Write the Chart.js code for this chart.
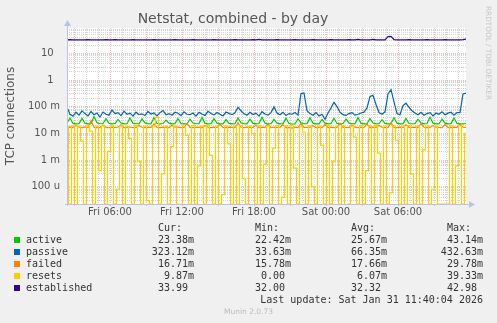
<!DOCTYPE html>
<html>
<head>
<meta charset="utf-8">
<script src="https://cdn.jsdelivr.net/npm/chart.js@4.4.1/dist/chart.umd.min.js"></script>
<style>
  html, body { margin: 0; padding: 0; background: #f0f0f0; }
  #wrap { position: relative; width: 497px; height: 323px; overflow: hidden; }
  #netstat { position: absolute; left: 0; top: 0; }
  .lg { position: absolute; font-family: "DejaVu Sans Mono", monospace; font-size: 10px; line-height: 12px; color: #333; white-space: pre; }
  .sq { position: absolute; width: 6px; height: 6px; }
  #munin { position: absolute; left: 0; width: 497px; top: 307px; text-align: center; font-family: "DejaVu Sans", sans-serif; font-size: 7.5px; color: #bbb; }
</style>
</head>
<body>
<div id="wrap">
  <canvas id="netstat" width="497" height="323"></canvas>
  <div id="legend"></div>
  <div id="munin">Munin 2.0.73</div>
</div>
<script>
/**********************************************
 *
 * Netstat, combined - by day (munin)
 *
 * ****************************************/

// samples every 15 min, hours counted from Fri 00:00
var startHour = 2 + 25 / 60;
var times = [];
for (var i = 0; i < 134; i++) times.push(startHour + i * 0.25);

// values in milli-connections (m)
var active = [
  24.1, 38.0, 23.5, 22.8, 23.2, 36.5, 24.0, 22.6, 23.0, 43.14, 25.0, 22.9, 23.4, 35.0,
  23.8, 22.7, 23.1, 33.2, 24.2, 22.5, 23.0, 37.4, 23.6, 22.9, 22.6, 34.8, 24.5, 23.0,
  22.8, 38.9, 23.4, 22.7, 23.3, 31.5, 24.0, 22.6, 23.1, 36.2, 23.2, 22.8, 22.5, 33.9,
  24.3, 22.9, 23.0, 39.5, 23.7, 22.6, 23.2, 35.6, 24.1, 22.8, 22.5, 32.8, 23.6, 22.7,
  23.0, 37.8, 24.4, 22.9, 22.6, 34.1, 23.5, 22.7, 23.3, 40.2, 23.9, 22.6, 22.9, 33.4,
  24.0, 22.8, 23.1, 36.9, 23.4, 22.6, 22.42, 35.2, 24.6, 22.9, 23.2, 38.4, 23.8, 22.7,
  22.5, 33.0, 24.2, 22.8, 23.0, 37.1, 23.5, 22.6, 23.4, 34.6, 24.0, 22.9, 22.7, 39.0,
  23.6, 22.8, 23.1, 35.8, 24.3, 22.6, 22.9, 32.6, 23.7, 22.7, 23.2, 38.2, 24.1, 22.8,
  22.6, 36.0, 23.4, 22.9, 23.0, 33.8, 24.5, 22.6, 23.3, 40.6, 23.9, 22.8, 22.5, 34.3,
  24.0, 22.7, 23.1, 37.5, 23.6, 22.9, 22.8, 23.38
];
var passive = [
  96, 52, 44, 62, 48, 70, 55, 45, 66, 50, 58, 41, 63, 52,
  48, 75, 55, 60, 46, 68, 52, 57, 44, 62, 50, 54, 47, 66,
  53, 58, 45, 60, 72, 50, 55, 48, 62, 57, 46, 64, 52, 50,
  58, 44, 61, 53, 47, 67, 55, 49, 60, 52, 45, 63, 56, 50,
  59, 95, 70, 54, 48, 62, 51, 57, 44, 65, 53, 48, 60, 98,
  58, 50, 62, 47, 55, 52, 60, 48, 310, 325, 70, 55, 48, 60,
  45, 52, 33.63, 58, 90, 145, 100, 62, 50, 47, 55, 60, 48, 52,
  58, 62, 90, 240, 265, 120, 60, 52, 64, 300, 432.63, 150, 55, 50,
  110, 135, 95, 70, 58, 50, 62, 48, 55, 60, 45, 58, 52, 64,
  50, 57, 62, 48, 60, 60, 300, 323.12
];
var failed = [
  16.8, 17.2, 16.5, 19.5, 16.9, 16.3, 17.4, 16.6, 29.78, 17.0, 16.4, 16.8, 20.5, 16.7,
  16.2, 17.1, 16.6, 16.9, 21.0, 16.5, 16.8, 17.3, 16.4, 16.7, 19.8, 16.9, 16.3, 17.2,
  16.6, 22.4, 16.8, 16.4, 17.0, 16.7, 16.2, 20.2, 16.9, 17.1, 16.5, 16.8, 23.5, 16.6,
  16.3, 17.0, 16.7, 16.4, 19.6, 16.9, 16.5, 17.2, 16.6, 21.8, 16.8, 16.3, 17.0, 16.7,
  16.4, 24.6, 16.9, 16.5, 17.1, 16.6, 16.8, 19.9, 16.4, 17.0, 16.7, 22.0, 16.5, 16.9,
  16.6, 17.2, 20.8, 16.4, 16.7, 15.78, 17.0, 16.5, 23.2, 16.8, 16.6, 17.1, 19.4, 16.5,
  16.9, 16.3, 21.5, 16.7, 17.0, 16.4, 16.8, 24.0, 16.6, 16.9, 16.5, 20.6, 17.1, 16.4,
  16.7, 16.8, 22.8, 16.5, 17.0, 16.6, 19.7, 16.9, 16.4, 16.8, 25.2, 16.7, 16.5, 17.1,
  16.3, 20.9, 16.8, 16.6, 17.0, 16.4, 23.4, 16.9, 16.5, 16.7, 19.5, 17.0, 16.6, 16.4,
  21.2, 16.8, 16.5, 17.1, 16.6, 22.6, 16.9, 16.71
];
var resets = [
  18.5, 0, 19.2, 0.02, 18.8, 5.1, 0, 19.0, 12.0, 0, 18.6, 0.4, 19.3, 0,
  2.1, 18.9, 0, 0.08, 19.1, 0, 18.4, 6.5, 0, 19.4, 0.9, 0, 18.7, 0.03,
  0, 19.0, 39.33, 0, 0.3, 18.8, 0, 3.2, 19.2, 0, 0.01, 18.5, 8.4, 0,
  19.3, 0, 0.6, 18.9, 0, 19.1, 1.5, 0, 18.6, 0, 0.05, 19.0, 4.0, 0,
  18.7, 0, 19.4, 0.2, 0, 18.8, 9.8, 0, 19.0, 0, 0.7, 18.5, 0, 2.8,
  19.2, 0, 0.04, 18.9, 0, 19.3, 0.5, 0, 18.6, 11.2, 0, 19.1, 0.1, 0,
  18.8, 3.6, 0, 19.4, 0, 0.9, 18.7, 0, 19.0, 0.02, 0, 18.5, 7.2, 0,
  19.2, 0, 0.4, 18.9, 0, 19.3, 1.8, 0, 18.6, 0, 0.06, 19.1, 5.5, 0,
  18.8, 0, 19.4, 0.3, 0, 18.7, 0, 2.4, 19.0, 0, 0.08, 18.5, 0, 0,
  0, 0, 19.2, 0, 0.6, 18.9, 0, 9.87
];
// values in connections
var established = [
  32.0, 32.5, 32.0, 32.0, 32.3, 32.0, 32.0, 32.5, 32.0, 32.0, 32.2, 32.0, 32.0, 32.4,
  32.0, 32.0, 32.5, 32.0, 32.0, 32.2, 32.0, 32.0, 32.6, 32.0, 32.0, 32.0, 32.3, 32.0,
  32.0, 32.5, 32.0, 32.0, 32.2, 32.0, 32.0, 32.0, 32.4, 32.0, 32.0, 32.3, 32.0, 32.0,
  32.5, 32.0, 32.0, 32.0, 32.2, 32.0, 32.0, 32.4, 32.0, 32.0, 32.0, 32.3, 32.0, 32.0,
  32.5, 32.0, 32.0, 32.2, 32.0, 32.0, 32.4, 32.0, 33.6, 32.0, 32.0, 32.3, 32.0, 32.0,
  32.5, 32.0, 32.0, 32.2, 32.0, 32.0, 32.4, 32.0, 32.0, 32.3, 32.0, 32.0, 32.5, 32.0,
  32.0, 32.2, 32.0, 32.0, 32.4, 32.0, 32.0, 32.3, 32.0, 32.0, 32.5, 32.0, 32.0, 33.3,
  32.0, 32.2, 32.0, 32.0, 33.4, 32.0, 32.0, 32.3, 32.2, 42.4, 42.98, 32.6, 32.0, 32.2,
  32.0, 32.0, 32.4, 32.0, 32.0, 32.3, 32.0, 32.0, 32.5, 32.0, 32.0, 32.2, 32.0, 32.0,
  32.4, 32.0, 32.0, 32.3, 32.0, 32.0, 32.5, 33.99
];

var seriesNames  = ['active', 'passive', 'failed', 'resets', 'established'];
var seriesColors = ['#00cc00', '#0066b3', '#ff8000', '#ffcc00', '#330099'];
var legendCur = ['23.38m', '323.12m', '16.71m', ' 9.87m', '33.99 '];
var legendMin = ['22.42m', '33.63m', '15.78m', ' 0.00 ', '32.00 '];
var legendAvg = ['25.67m', '66.35m', '17.66m', ' 6.07m', '32.32 '];
var legendMax = ['43.14m', '432.63m', '29.78m', '39.33m', '42.98 '];

var xLabelHours = [6, 12, 18, 24, 30];
var xLabelText  = ['Fri 06:00', 'Fri 12:00', 'Fri 18:00', 'Sat 00:00', 'Sat 06:00'];
var yLabelValues = [10, 1, 0.1, 0.01, 0.001, 0.0001];
var yLabelText   = ['10  ', '1  ', '100 m', '10 m', '1 m', '100 u'];

var yMin = Math.pow(10, -4.65), yMax = Math.pow(10, 1.95);

// m -> units; a zero has no log, rrdtool puts it on the floor of the axis
var milli = function (a) { return a.map(function (v) { return v === 0 ? yMin : v / 1000; }); };
var seriesData = [milli(active), milli(passive), milli(failed), milli(resets), established];

var axisColor = '#b9c2ea';
var majorGrid = 'rgba(222,150,150,0.6)';
var minorGrid = '#d4d4d4';

function isDecade(v) {
	var l = Math.log10(v);
	return Math.abs(l - Math.round(l)) < 1e-6;
}

// axes with arrows, white plot background, rrdtool signature
var munin = {
	id: 'munin',
	beforeDraw: function (chart) {
		var a = chart.chartArea, c = chart.ctx;
		c.save();
		c.fillStyle = '#ffffff';
		c.fillRect(a.left, a.top, a.right - a.left, a.bottom - a.top);
		c.restore();
	},
	afterDraw: function (chart) {
		var a = chart.chartArea, c = chart.ctx;
		c.save();
		c.strokeStyle = axisColor;
		c.fillStyle = axisColor;
		c.lineWidth = 1;
		c.beginPath();
		c.moveTo(a.left + 0.5, a.bottom + 2);
		c.lineTo(a.left + 0.5, a.top - 4);
		c.moveTo(a.left - 2, a.bottom + 0.5);
		c.lineTo(a.right + 4, a.bottom + 0.5);
		c.stroke();
		c.beginPath();
		c.moveTo(a.left + 0.5, a.top - 8);
		c.lineTo(a.left - 3, a.top - 2);
		c.lineTo(a.left + 4, a.top - 2);
		c.closePath();
		c.fill();
		c.beginPath();
		c.moveTo(a.right + 9, a.bottom + 0.5);
		c.lineTo(a.right + 3, a.bottom - 3);
		c.lineTo(a.right + 3, a.bottom + 4);
		c.closePath();
		c.fill();
		c.translate(488, 53);
		c.rotate(Math.PI / 2);
		c.fillStyle = '#c8c8c8';
		c.font = '7.3px "DejaVu Sans"';
		c.textAlign = 'center';
		c.textBaseline = 'middle';
		c.fillText('RRDTOOL / TOBI OETIKER', 0, 0);
		c.restore();
	}
};

var ctx = document.getElementById('netstat').getContext('2d');

var chart = new Chart(ctx, {
	type: 'line',
	data: {
		labels: times,
		datasets: seriesNames.map(function (name, k) {
			return {
				label: name,
				data: seriesData[k],
				borderColor: seriesColors[k],
				backgroundColor: seriesColors[k],
				borderWidth: 1.2,
				pointRadius: 0,
				tension: 0,
				fill: false,
				// resets jump straight down to zero, like rrdtool draws it
				stepped: name === 'resets' ? 'middle' : false,
				order: 5 - k
			};
		})
	},
	options: {
		responsive: false,
		animation: false,
		layout: {
			padding: { left: 0, right: 31, top: 0, bottom: 99 }
		},
		plugins: {
			legend: { display: false },
			tooltip: { enabled: false },
			title: {
				display: true,
				text: 'Netstat, combined - by day',
				color: '#555',
				font: { family: 'DejaVu Sans', size: 14, weight: 'normal', lineHeight: 1.2143 },
				padding: { top: 11, bottom: 0 }
			}
		},
		scales: {
			x: {
				type: 'linear',
				min: times[0],
				max: times[times.length - 1],
				afterBuildTicks: function (scale) {
					var t = [];
					for (var h = 3; h <= 35; h++) t.push({ value: h });
					scale.ticks = t;
				},
				afterFit: function (scale) { scale.height = 20; },
				ticks: {
					autoSkip: false,
					maxRotation: 0,
					padding: 0,
					color: '#555',
					font: { family: 'DejaVu Sans', size: 10 },
					callback: function (value) {
						var k = xLabelHours.indexOf(value);
						return k < 0 ? '' : xLabelText[k];
					}
				},
				grid: {
					lineWidth: 1,
					tickLength: 2,
					color: function (c) { return c.tick && c.tick.value % 3 === 0 ? majorGrid : minorGrid; },
					tickColor: function (c) { return c.tick && c.tick.value % 3 === 0 ? majorGrid : 'rgba(0,0,0,0)'; }
				},
				border: { display: false, dash: [1, 1] }
			},
			y: {
				type: 'logarithmic',
				min: yMin,
				max: yMax,
				afterBuildTicks: function (scale) {
					var t = [];
					for (var e = -5; e <= 1; e++) {
						for (var m = 1; m <= 9; m++) {
							var v = m * Math.pow(10, e);
							if (v > yMin && v < yMax) t.push({ value: v });
						}
					}
					scale.ticks = t;
				},
				afterFit: function (scale) { scale.width = 67; },
				title: {
					display: true,
					text: 'TCP connections',
					color: '#555',
					font: { family: 'DejaVu Sans', size: 12, weight: 'normal' },
					padding: { top: 4, bottom: 4 }
				},
				ticks: {
					autoSkip: false,
					padding: 7,
					color: '#555',
					font: { family: 'DejaVu Sans', size: 10 },
					callback: function (value) {
						for (var k = 0; k < yLabelValues.length; k++) {
							if (Math.abs(value / yLabelValues[k] - 1) < 1e-6) return yLabelText[k];
						}
						return '';
					}
				},
				grid: {
					lineWidth: 1,
					drawTicks: false,
					color: function (c) { return c.tick && isDecade(c.tick.value) ? majorGrid : minorGrid; }
				},
				border: { display: false, dash: [1, 1] }
			}
		}
	},
	plugins: [munin]
});

// legend table under the graph
var legend = document.getElementById('legend');
function put(text, left, right, top) {
	var d = document.createElement('div');
	d.className = 'lg';
	d.textContent = text;
	if (left !== null) d.style.left = left + 'px';
	if (right !== null) d.style.right = (497 - right) + 'px';
	d.style.top = top + 'px';
	legend.appendChild(d);
}
put('Cur:', 158, null, 222);
put('Min:', 255, null, 222);
put('Avg:', 351, null, 222);
put('Max:', 447, null, 222);
seriesNames.forEach(function (name, k) {
	var top = 234 + k * 12;
	var sq = document.createElement('div');
	sq.className = 'sq';
	sq.style.left = '14px';
	sq.style.top = (top + 3) + 'px';
	sq.style.background = seriesColors[k];
	legend.appendChild(sq);
	put(name, 26, null, top);
	put(legendCur[k], null, 194, top);
	put(legendMin[k], null, 291, top);
	put(legendAvg[k], null, 387, top);
	put(legendMax[k], null, 483, top);
});
put('Last update: Sat Jan 31 11:40:04 2026', null, 483, 294);
</script>
</body>
</html>
